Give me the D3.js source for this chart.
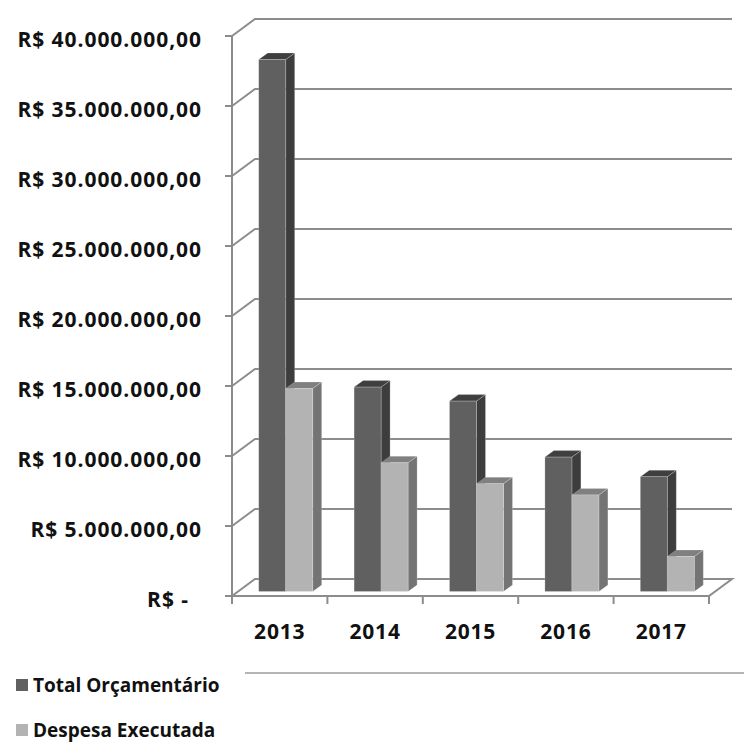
<!DOCTYPE html>
<html>
<head>
<meta charset="utf-8">
<script src="https://cdn.jsdelivr.net/npm/d3@7"></script>
<style>
  html, body { margin: 0; padding: 0; background: #fff; }
  svg { display: block; }
  text { font-family: "Open Sans", "DejaVu Sans", sans-serif; font-weight: 700; fill: #111; }
</style>
</head>
<body>
<svg id="chart" width="744" height="744"></svg>
<script>
// Orçamento x despesa executada, 2013–2017
const years = ["2013", "2014", "2015", "2016", "2017"];
const totalOrcamentario = [38000000, 14600000, 13600000, 9600000, 8200000];
const despesaExecutada = [14500000, 9200000, 7700000, 6900000, 2500000];
const tickValues = [0, 5000000, 10000000, 15000000, 20000000, 25000000, 30000000, 35000000, 40000000];
const seriesNames = ["Total Orçamentário", "Despesa Executada"];

const svg = d3.select("#chart");

// plot frame (front plane) and 3D depth of the walls
const plotLeft = 232, plotRight = 709, plotBase = 596, plotTop = 36;
const depth = { dx: 23, dy: -17 };
// bars sit slightly inside the floor and have their own depth
const barShift = { dx: 6, dy: -4.5 };
const barDepth = { dx: 9, dy: -6.5 };

const y = d3.scaleLinear().domain([0, 40000000]).range([plotBase, plotTop]);
const x = d3.scaleBand().domain(years).range([plotLeft, plotRight]);
const inner = d3.scaleBand().domain([0, 1]).range([0, 54]);

const gridColor = "#8c8c8c";
const fmt = v => v === 0 ? "R$ -" :
  "R$ " + d3.format(",.2f")(v).replace(/,/g, "#").replace(".", ",").replace(/#/g, ".");

// walls: gridlines run along the side wall and across the back wall
const grid = svg.append("g").attr("fill", "none").attr("stroke", gridColor).attr("stroke-width", 2);
tickValues.forEach(v => {
  if (v === 0) return;
  const yy = y(v);
  grid.append("path").attr("d",
    `M${plotLeft},${yy}L${plotLeft + depth.dx},${yy + depth.dy}L${plotRight + depth.dx},${yy + depth.dy}`);
});

// floor
grid.append("path").attr("d",
  `M${plotLeft},${plotBase}L${plotLeft + depth.dx},${plotBase + depth.dy}L${plotRight + depth.dx},${plotBase + depth.dy}L${plotRight},${plotBase}Z`);

// value axis with outward ticks
const axisG = svg.append("g").attr("stroke", gridColor).attr("stroke-width", 2);
axisG.append("line").attr("x1", plotLeft).attr("x2", plotLeft).attr("y1", y(40000000)).attr("y2", plotBase);
tickValues.forEach(v => {
  axisG.append("line").attr("x1", plotLeft - 7).attr("x2", plotLeft).attr("y1", y(v)).attr("y2", y(v));
});
// category ticks
years.concat(["end"]).forEach((d, i) => {
  const xx = plotLeft + i * x.bandwidth();
  axisG.append("line").attr("x1", xx).attr("x2", xx).attr("y1", plotBase).attr("y2", plotBase + 8);
});

// value labels
svg.append("g").selectAll("text").data(tickValues).join("text")
  .attr("x", d => d === 0 ? 189 : 202)
  .attr("y", d => y(d) + 11)
  .attr("text-anchor", "end")
  .attr("font-size", 21)
  .attr("letter-spacing", 0.95)
  .text(fmt);

// category labels
svg.append("g").selectAll("text").data(years).join("text")
  .attr("x", d => x(d) + x.bandwidth() / 2)
  .attr("y", 639)
  .attr("text-anchor", "middle")
  .attr("font-size", 21)
  .attr("letter-spacing", 0.8)
  .text(d => d);

// 3D bars
const palettes = [
  { front: "#606060", side: "#3d3d3d", top: "#3f3f3f" },
  { front: "#b3b3b3", side: "#747474", top: "#808080" }
];
const bars = svg.append("g");
const barWidth = inner.bandwidth();

function drawBar(x0, value, pal) {
  const x1 = x0 + barWidth;
  const yb = plotBase + barShift.dy;
  const yt = y(value) + barShift.dy;
  const g = bars.append("g").attr("stroke", "rgba(255,255,255,0.25)").attr("stroke-width", 0.8);
  g.append("path").attr("fill", pal.side).attr("d",
    `M${x1},${yb}L${x1 + barDepth.dx},${yb + barDepth.dy}L${x1 + barDepth.dx},${yt + barDepth.dy}L${x1},${yt}Z`);
  g.append("path").attr("fill", pal.top).attr("d",
    `M${x0},${yt}L${x0 + barDepth.dx},${yt + barDepth.dy}L${x1 + barDepth.dx},${yt + barDepth.dy}L${x1},${yt}Z`);
  g.append("rect").attr("fill", pal.front)
    .attr("x", x0).attr("y", yt).attr("width", barWidth).attr("height", yb - yt);
}

years.forEach((yr, i) => {
  const start = x(yr) + (x.bandwidth() - barWidth * 2) / 2 + barShift.dx;
  drawBar(start + inner(0), totalOrcamentario[i], palettes[0]);
  drawBar(start + inner(1), despesaExecutada[i], palettes[1]);
});

// separator line under the plot
svg.append("line").attr("x1", 245).attr("x2", 744).attr("y1", 673).attr("y2", 673)
  .attr("stroke", "#b4b4b4").attr("stroke-width", 2);

// legend
const legend = svg.append("g");
const legendY = [692, 737];
seriesNames.forEach((name, i) => {
  legend.append("rect").attr("x", 16).attr("y", legendY[i] - 13).attr("width", 12).attr("height", 12)
    .attr("fill", palettes[i].front);
  legend.append("text").attr("x", 33).attr("y", legendY[i]).attr("font-size", 19).text(name);
});
</script>
</body>
</html>
